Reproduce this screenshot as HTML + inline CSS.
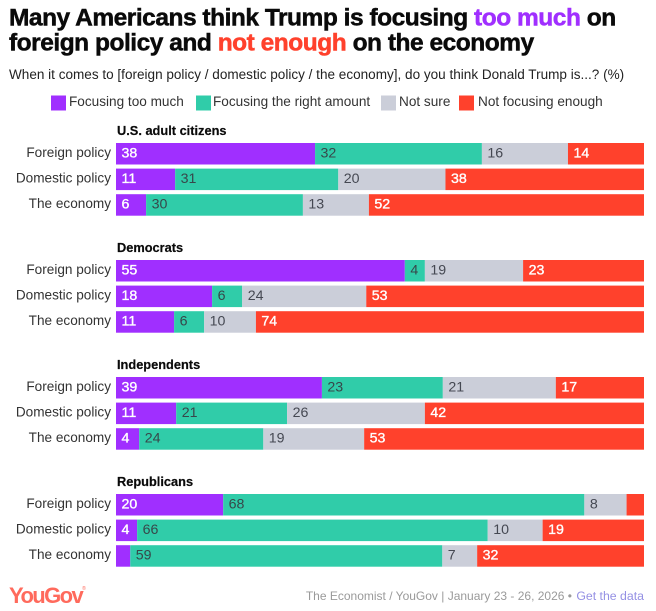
<!DOCTYPE html>
<html lang="en">
<head>
<meta charset="utf-8">
<title>Many Americans think Trump is focusing too much on foreign policy</title>
<style>
html,body{margin:0;padding:0;background:#fff;width:656px;height:611px;overflow:hidden}
svg{display:block;font-family:"Liberation Sans",sans-serif}
</style>
</head>
<body>
<svg id="chart" width="656" height="611" viewBox="0 0 656 611" xmlns="http://www.w3.org/2000/svg">
  <rect width="656" height="611" fill="#fff"/>
  <text x="9" y="25.5" font-size="24.5" font-weight="700" letter-spacing="-0.48" fill="#0a0a0a" stroke="#0a0a0a" stroke-width="0.5">Many Americans think Trump is focusing <tspan fill="#a02fff" stroke="#a02fff">too much</tspan> on</text>
  <text x="9" y="50.5" font-size="24.5" font-weight="700" letter-spacing="-0.48" fill="#0a0a0a" stroke="#0a0a0a" stroke-width="0.5">foreign policy and <tspan fill="#ff412c" stroke="#ff412c">not enough</tspan> on the economy</text>
  <text x="9" y="79" font-size="13.55" fill="#222">When it comes to [foreign policy / domestic policy / the economy], do you think Donald Trump is...? (%)</text>
  <g font-size="13.6" fill="#333">
    <rect x="51" y="95.5" width="15" height="15" fill="#a02fff"/>
    <text x="69" y="106">Focusing too much</text>
    <rect x="196" y="95.5" width="15" height="15" fill="#30cca9"/>
    <text x="213" y="106">Focusing the right amount</text>
    <rect x="381" y="95.5" width="15" height="15" fill="#cbced9"/>
    <text x="399" y="106">Not sure</text>
    <rect x="459" y="95.5" width="15" height="15" fill="#ff412c"/>
    <text x="478" y="106">Not focusing enough</text>
  </g>
  <g id="plot"></g>
  <text x="9" y="603" font-size="22" font-weight="700" letter-spacing="-1.6" fill="#ff6a5c">YouGov<tspan font-size="5" dy="-13" font-weight="400">®</tspan></text>
  <text x="572" y="600" text-anchor="end" font-size="12" fill="#9a9a9a">The Economist / YouGov | January 23 - 26, 2026 •</text>
  <a><text x="644" y="600" text-anchor="end" font-size="12.3" fill="#9490e4">Get the data</text></a>
</svg>
<script>
const groups = ["U.S. adult citizens", "Democrats", "Independents", "Republicans"];
const questions = ["Foreign policy", "Domestic policy", "The economy"];
const seriesNames = ["too-much", "right-amount", "not-sure", "not-enough"];
const tooMuch = [[37.7, 11.2, 5.7], [54.7, 18.2, 11], [39, 11.4, 4.4], [20.3, 4, 2.7]];
const rightAmount = [[31.6, 30.9, 29.7], [3.8, 5.7, 5.7], [22.9, 21, 23.5], [68.4, 66.4, 59.1]];
const notSure = [[16.3, 20.3, 12.5], [18.6, 23.5, 9.8], [21.4, 26.1, 19.1], [8, 10.4, 6.6]];
const notEnough = [[14.4, 37.6, 52.1], [22.9, 52.6, 73.5], [16.7, 41.5, 53], [3.3, 19.2, 31.6]];
const seriesValues = [tooMuch, rightAmount, notSure, notEnough];
const seriesFill = ["#a02fff", "#30cca9", "#cbced9", "#ff412c"];
const seriesText = ["#ffffff", "#37474a", "#454852", "#ffffff"];

const NS = "http://www.w3.org/2000/svg";
const plot = document.getElementById("plot");
const xLeft = 116, xRight = 644;
const xScale = v => (xRight - xLeft) * v / 100;
const groupTop = g => 143 + g * 117;
const rowTop = (g, r) => groupTop(g) + r * 25.6;
const rowHeight = 21.5;
const minLabelled = 3.5;

function make(tag, attrs, text) {
  const el = document.createElementNS(NS, tag);
  for (const k in attrs) el.setAttribute(k, attrs[k]);
  if (text !== undefined) el.textContent = text;
  plot.appendChild(el);
  return el;
}

groups.forEach((group, g) => {
  const head = make("text", {x: xLeft + 1, y: groupTop(g) - 8, "font-size": 12.8, "font-weight": 700, fill: "#0a0a0a", stroke: "#0a0a0a", "stroke-width": 0.2}, group);
  
  
  questions.forEach((question, r) => {
    const y = rowTop(g, r);
    const lab = make("text", {x: xLeft - 5, y: y + 14, "text-anchor": "end", "font-size": 13.6, fill: "#333"}, question);
    
    
    let cum = 0;
    seriesValues.forEach((series, s) => {
      const v = series[g][r];
      const x = xLeft + xScale(cum);
      const bar = make("rect", {x: x, y: y, width: xScale(v), height: rowHeight, fill: seriesFill[s]});
      
      
      if (v >= minLabelled) {
        const light = s === 0 || s === 3;
        const val = make("text", {x: x + 5.5, y: y + 14.5, "font-size": 14.2, fill: seriesText[s], stroke: light ? seriesText[s] : "none", "stroke-width": light ? 0.35 : 0}, String(Math.round(v)));
        
        
      }
      cum += v;
    });
  });
});
</script>
</body>
</html>
